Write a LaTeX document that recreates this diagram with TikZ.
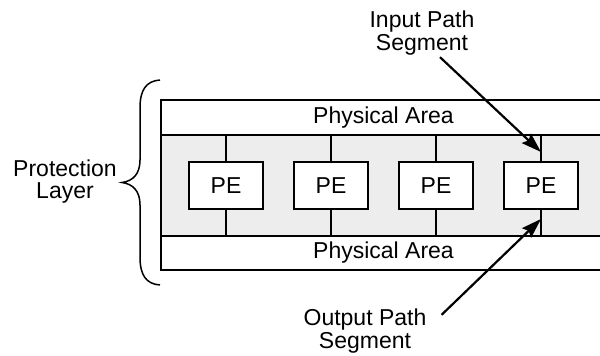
\documentclass[tikz,border=0pt]{standalone}
\usepackage{fontspec}
\setmainfont{Liberation Sans}
\usetikzlibrary{arrows.meta,positioning}
\definecolor{bandgray}{gray}{0.93}

\begin{document}
\begin{tikzpicture}[
    x=1pt, y=-1pt,
    font=\fontsize{23}{22.5}\selectfont,
    band/.style={rectangle, draw=black, line width=2pt, minimum width=445pt, inner sep=0pt},
    pebox/.style={rectangle, draw=black, fill=white, line width=2pt, minimum width=74pt, minimum height=47pt, inner sep=0pt},
    wire/.style={line width=2pt},
    arr/.style={-{Stealth[length=20pt, width=13pt, inset=3pt]}, line width=2.2pt},
    note/.style={align=center, inner sep=0pt}
]
\useasboundingbox (0,0) rectangle (600,356);
\clip (0,0) rectangle (600,356);

% layers of the strip
\node[band, fill=bandgray, minimum height=101pt] (midarea) at (383.5,185.5) {};
\node[band, fill=white, minimum height=35pt] (toparea) at (383.5,117.5) {Physical Area};
\node[band, fill=white, minimum height=34pt] (botarea) at (383.5,253) {Physical Area};

% processing elements
\foreach \i/\x in {1/226,2/331,3/436,4/541} {
    \node[pebox] (pe\i) at (\x,185.5) {PE};
    \draw[wire] (pe\i.north) -- (pe\i.north |- toparea.south);
    \draw[wire] (pe\i.south) -- (pe\i.south |- botarea.north);
}

% labels
\node[note] (prot) at (65,181.5) {Protection\\Layer};
\node[note] (inlabel) at (422,33) {Input Path\\Segment};
\node[note] (outlabel) at (365,331) {Output Path\\Segment};

\coordinate (intip) at ([yshift=9pt]pe4.north);
\coordinate (outtip) at ([yshift=-9pt]pe4.south);
\draw[arr] ([shift={(18,2)}]inlabel.south) -- (intip);
\draw[arr] ([shift={(15,6)}]outlabel.north east) -- (outtip);

% brace
\draw[line width=1.5pt] (160,80) .. controls (146,81) and (140,90) .. (140,108) -- (140,160)
    .. controls (140,174) and (133,181) .. (122,182.5)
    .. controls (133,184) and (140,191) .. (140,205) -- (140,257)
    .. controls (140,275) and (146,284) .. (160,285);
\end{tikzpicture}
\end{document}
